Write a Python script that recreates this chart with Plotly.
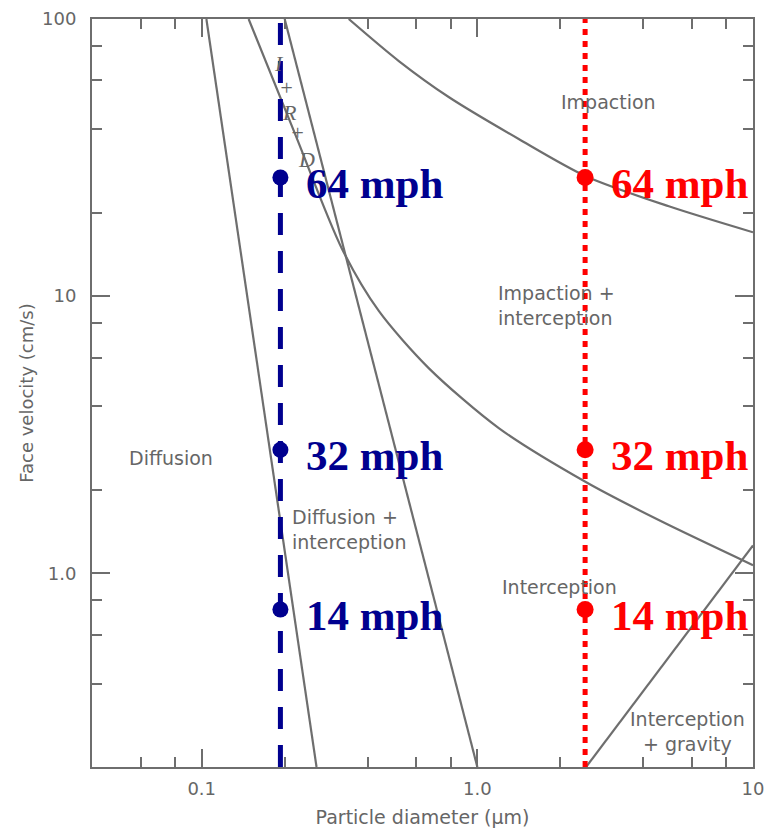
import numpy as np
import plotly.graph_objects as go

# ---------------- data (particle diameter in um, face velocity in cm/s) ----------------
# Boundary: Diffusion | Diffusion + interception
diff_x = [0.104, 0.261]
diff_y = [100, 0.2]
# Boundary: left edge of I+R+D band, continuing as Impaction+interception | Interception
mid_x = [0.148, 0.219, 0.322, 0.439, 0.666, 1.196, 2.474, 4.55, 10.0]
mid_y = [100, 38.1, 14.9, 8.84, 5.50, 3.34, 2.134, 1.556, 1.07]
# Boundary: right edge of I+R+D band, Diffusion+interception | Interception
intc_x = [0.2, 1.0]
intc_y = [100, 0.2]
# Boundary: Impaction | Impaction + interception
imp_x = [0.3415, 0.519, 0.787, 1.413, 2.474, 4.95, 10.0]
imp_y = [100, 70.5, 52.3, 36.9, 27.1, 21.1, 17.0]
# Boundary: Interception | Interception + gravity
grav_x = [2.48, 10.0]
grav_y = [0.2, 1.26]

# Highlighted filter conditions
blue_diam = 0.193
red_diam = 2.46
speeds_cm_s = [26.8, 2.79, 0.74]
speed_labels = ["64 mph", "32 mph", "14 mph"]

x_tickvals = [0.1, 1.0, 10]
x_ticktext = ["0.1", "1.0", "10"]
x_minor = [0.06, 0.08, 0.2, 0.4, 0.6, 0.8, 2, 4, 6, 8]
y_tickvals = [1.0, 10, 100]
y_ticktext = ["1.0", "10", "100"]
y_minor = [0.4, 0.6, 0.8, 2, 4, 6, 8, 20, 40, 60, 80]

regions = [
    ("Impaction", 2.98, 50.1, "center"),
    ("Impaction +<br>interception", 1.172, 9.24, "left"),
    ("Diffusion", 0.0773, 2.61, "center"),
    ("Diffusion +<br>interception", 0.2085, 1.442, "left"),
    ("Interception", 1.98, 0.89, "center"),
    ("Interception<br>+ gravity", 5.81, 0.269, "center"),
]
ird_labels = [("I", 0.1903, 69.3), ("+", 0.2034, 56.8), ("R", 0.2087, 46.1),
              ("+", 0.2230, 38.8), ("D", 0.2404, 31.0)]

GRAY = "#6e6e6e"
TXT = "#666666"
BLUE = "#00008f"
RED = "#ff0000"

fig = go.Figure()
for xs, ys in [(diff_x, diff_y), (mid_x, mid_y), (intc_x, intc_y), (imp_x, imp_y), (grav_x, grav_y)]:
    fig.add_trace(go.Scatter(x=xs, y=ys, mode="lines",
                             line=dict(color=GRAY, width=2.2, shape="spline", smoothing=0.8),
                             hoverinfo="skip", showlegend=False))

# vertical highlight lines
fig.add_trace(go.Scatter(x=[blue_diam, blue_diam], y=[0.2, 100], mode="lines",
                         line=dict(color=BLUE, width=5, dash="22px,16px"), showlegend=False))
fig.add_trace(go.Scatter(x=[red_diam, red_diam], y=[0.2, 100], mode="lines",
                         line=dict(color=RED, width=5, dash="6px,6px"), showlegend=False))
fig.add_trace(go.Scatter(x=[blue_diam] * 3, y=speeds_cm_s, mode="markers",
                         marker=dict(color=BLUE, size=16), showlegend=False))
fig.add_trace(go.Scatter(x=[red_diam] * 3, y=speeds_cm_s, mode="markers",
                         marker=dict(color=RED, size=17), showlegend=False))

for lab, v in zip(speed_labels, speeds_cm_s):
    for xd, col in [(blue_diam, BLUE), (red_diam, RED)]:
        fig.add_annotation(x=np.log10(xd), y=np.log10(v), text="<b>" + lab + "</b>", showarrow=False,
                           xanchor="left", yanchor="middle", xshift=24, yshift=-6,
                           font=dict(family="Liberation Serif", size=43, color=col))

for txt, xv, yv, al in regions:
    fig.add_annotation(x=np.log10(xv), y=np.log10(yv), text=txt, showarrow=False,
                       xanchor=al if al == "left" else "center", yanchor="middle", align=al,
                       font=dict(family="DejaVu Sans", size=19, color=TXT))
for txt, xv, yv in ird_labels:
    fig.add_annotation(x=np.log10(xv), y=np.log10(yv), text="<i>" + txt + "</i>", showarrow=False,
                       xanchor="center", yanchor="middle",
                       font=dict(family="Liberation Serif", size=22, color=TXT))

axis_common = dict(showline=True, linecolor=GRAY, linewidth=2, mirror="allticks", ticks="inside",
                   ticklen=18, tickwidth=2, tickcolor=GRAY, showgrid=False, zeroline=False,
                   automargin=False,
                   tickfont=dict(family="DejaVu Sans", size=18, color=TXT))
fig.update_xaxes(type="log", range=[np.log10(0.04), 1], tickmode="array", tickvals=x_tickvals,
                 ticktext=x_ticktext, ticklabelstandoff=4,
                 minor=dict(tickmode="array", tickvals=x_minor, ticks="inside", ticklen=10, tickwidth=2, tickcolor=GRAY),
                 title=dict(text="Particle diameter (\u03bcm)", standoff=16,
                            font=dict(family="DejaVu Sans", size=19, color=TXT)),
                 **axis_common)
fig.update_yaxes(type="log", range=[np.log10(0.2), 2], tickmode="array", tickvals=y_tickvals,
                 ticktext=y_ticktext, ticklabelstandoff=10,
                 minor=dict(tickmode="array", tickvals=y_minor, ticks="inside", ticklen=10, tickwidth=2, tickcolor=GRAY),
                 title=dict(text="Face velocity (cm/s)", standoff=4,
                            font=dict(family="DejaVu Sans", size=18, color=TXT)),
                 **axis_common)
fig.update_layout(width=768, height=828, margin=dict(l=92, r=15, t=19, b=61),
                  plot_bgcolor="white", paper_bgcolor="white", showlegend=False)
fig.write_html("out.html")
